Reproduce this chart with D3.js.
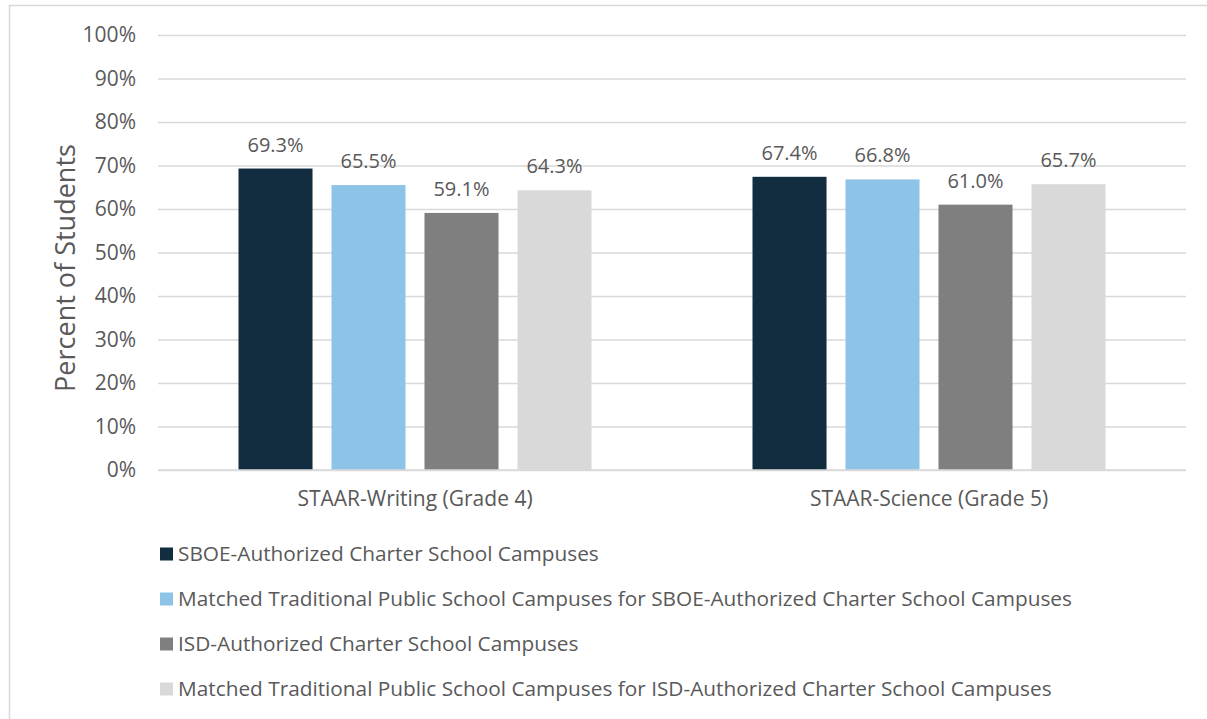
<!DOCTYPE html>
<html>
<head>
<meta charset="utf-8">
<script src="https://cdn.jsdelivr.net/npm/d3@7"></script>
<style>
  body { margin: 0; background: #fff; }
  svg text { font-family: "Open Sans", sans-serif; fill: #595959; }
</style>
</head>
<body>
<svg id="chart"></svg>
<script>
// chart data
const categories = ["STAAR-Writing (Grade 4)", "STAAR-Science (Grade 5)"];
const seriesNames = [
    "SBOE-Authorized Charter School Campuses",
    "Matched Traditional Public School Campuses for SBOE-Authorized Charter School Campuses",
    "ISD-Authorized Charter School Campuses",
    "Matched Traditional Public School Campuses for ISD-Authorized Charter School Campuses"
];
const sboeValues = [69.3, 67.4];
const sboeMatchedValues = [65.5, 66.8];
const isdValues = [59.1, 61.0];
const isdMatchedValues = [64.3, 65.7];
const yTicks = [0, 10, 20, 30, 40, 50, 60, 70, 80, 90, 100];

const colors = ["#132d40", "#8dc3e6", "#7f7f7f", "#d9d9d9"];
const seriesValues = [sboeValues, sboeMatchedValues, isdValues, isdMatchedValues];

const width = 1207, height = 719;
const margin = { top: 35, right: 21, bottom: 249, left: 158 };
const innerW = width - margin.left - margin.right;
const innerH = height - margin.top - margin.bottom;

const svg = d3.select('#chart')
    .attr('width', width)
    .attr('height', height);

// outer frame (partly cropped)
svg.append('path')
    .attr('d', `M9.5,${height} V5.5 H${width}`)
    .attr('fill', 'none')
    .attr('stroke', '#d9d9d9')
    .attr('stroke-width', 1.5);

const g = svg.append('g')
    .attr('transform', `translate(${margin.left},${margin.top})`);

const x0 = d3.scaleBand()
    .domain(categories)
    .range([0, innerW]);

const x1 = d3.scaleBand()
    .domain(d3.range(seriesNames.length))
    .range([80.5, x0.bandwidth() - 80.5])
    .paddingInner(0.204);

const y = d3.scaleLinear()
    .domain([0, 100])
    .range([innerH, 0]);

// grid lines
g.append('g')
    .attr('class', 'grid')
    .call(d3.axisLeft(y).tickValues(yTicks).tickSize(-innerW).tickFormat(''))
    .call(s => s.select('.domain').remove())
    .call(s => s.selectAll('line').attr('stroke', '#d9d9d9').attr('stroke-width', 1.5));

// y axis labels
g.append('g')
    .attr('class', 'y-axis')
    .call(d3.axisLeft(y).tickValues(yTicks).tickSize(0).tickPadding(22).tickFormat(d => d + '%'))
    .call(s => s.select('.domain').remove())
    .call(s => s.selectAll('text').attr('font-size', 21).style('fill', '#595959'));

// bars
const groups = g.selectAll('.cat')
    .data(categories)
    .join('g')
    .attr('class', 'cat')
    .attr('transform', d => `translate(${x0(d)},0)`);

groups.selectAll('rect')
    .data((d, ci) => seriesValues.map((vals, si) => ({ si, v: vals[ci] })))
    .join('rect')
    .attr('x', d => x1(d.si))
    .attr('width', x1.bandwidth())
    .attr('y', d => y(d.v))
    .attr('height', d => innerH - y(d.v))
    .attr('fill', d => colors[d.si]);

groups.selectAll('.val')
    .data((d, ci) => seriesValues.map((vals, si) => ({ si, v: vals[ci] })))
    .join('text')
    .attr('class', 'val')
    .attr('x', d => x1(d.si) + x1.bandwidth() / 2)
    .attr('y', d => y(d.v) - 17)
    .attr('text-anchor', 'middle')
    .attr('font-size', 20)
    .text(d => d.v.toFixed(1) + '%');

// x axis baseline
g.append('line')
    .attr('x1', 0).attr('x2', innerW)
    .attr('y1', innerH).attr('y2', innerH)
    .attr('stroke', '#d9d9d9')
    .attr('stroke-width', 1.5);

// x axis labels
g.append('g')
    .attr('class', 'x-axis')
    .attr('transform', `translate(0,${innerH})`)
    .call(d3.axisBottom(x0).tickSize(0).tickPadding(21))
    .call(s => s.select('.domain').remove())
    .call(s => s.selectAll('text').attr('font-size', 21).style('fill', '#595959'));

// y axis title
svg.append('text')
    .attr('transform', `translate(75,268) rotate(-90)`)
    .attr('text-anchor', 'middle')
    .attr('font-size', 27)
    .text('Percent of Students');

// legend
const legend = svg.append('g')
    .attr('transform', 'translate(160,554)');

const items = legend.selectAll('g')
    .data(seriesNames)
    .join('g')
    .attr('transform', (d, i) => `translate(0,${i * 45})`);

items.append('rect')
    .attr('x', 0).attr('y', -6.5)
    .attr('width', 13).attr('height', 13)
    .attr('fill', (d, i) => colors[i]);

items.append('text')
    .attr('x', 18)
    .attr('dy', '0.35em')
    .attr('font-size', 20.8)
    .text(d => d);
</script>
</body>
</html>
